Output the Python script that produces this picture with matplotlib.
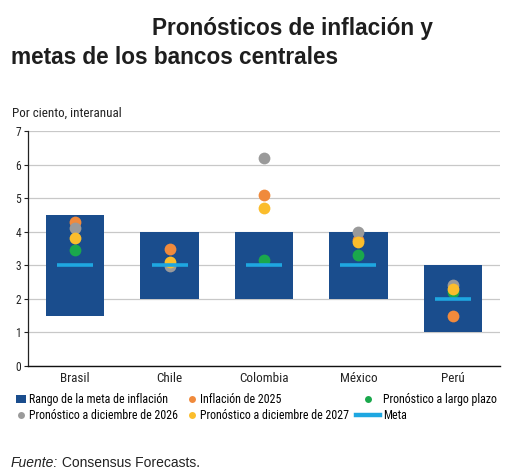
import matplotlib
matplotlib.use("Agg")
import matplotlib.pyplot as plt
from matplotlib.lines import Line2D
from matplotlib.patches import Patch
from matplotlib import font_manager as fm
from matplotlib.textpath import TextPath
import os
import numpy as np

countries = ["Brasil", "Chile", "Colombia", "México", "Perú"]
range_low = [1.5, 2.0, 2.0, 2.0, 1.0]
range_high = [4.5, 4.0, 4.0, 4.0, 3.0]
meta = [3.0, 3.0, 3.0, 3.0, 2.0]
infl_2025 = [4.3, 3.5, 5.1, 3.75, 1.5]
pron_2026 = [4.1, 2.98, 6.2, 4.0, 2.4]
pron_2027 = [3.8, 3.1, 4.7, 3.7, 2.3]
largo_plazo = [3.45, 3.0, 3.15, 3.3, 2.2]

C_BAR = "#1a4d8d"
C_META = "#1ea7e1"
C_ORANGE = "#f08a3c"
C_GRAY = "#9a9a9a"
C_YELLOW = "#fbbd2c"
C_GREEN = "#1aa84c"

W, H = 516, 475
files = {os.path.basename(f.fname).lower(): f.fname for f in fm.fontManager.ttflist}


def base_fp(candidates, family, **kw):
    for c in candidates:
        if c.lower() in files:
            return fm.FontProperties(fname=files[c.lower()])
    return fm.FontProperties(family=family, **kw)


narrow_base = base_fp(["LiberationSansNarrow-Regular.ttf",
                       "RobotoCondensed-Regular.ttf",
                       "OpenSans_Condensed-Regular.ttf",
                       "OpenSansCondensed-Regular.ttf",
                       "NotoSans-Condensed.ttf",
                       "NotoSansCondensed-Regular.ttf",
                       "DejaVuSansCondensed.ttf", "Lato-Regular.ttf"], "Lato")


def fit(text, target_px, prop=narrow_base):
    p = prop.copy()
    p.set_size(10)
    w = TextPath((0, 0), text, prop=p).get_extents().width * 100 / 72
    p.set_size(min(10.5, 10 * target_px / w))
    return p


title_fp = base_fp(["LiberationSans-Bold.ttf"], "Liberation Sans", weight="bold")
title_fp.set_size(16.3)
ital_fp = base_fp(["LiberationSans-Italic.ttf"], "Liberation Sans", style="italic")
ital_fp.set_size(10)
reg_fp = base_fp(["LiberationSans-Regular.ttf"], "Liberation Sans")
reg_fp.set_size(10)

leg_fp = fit("Pronóstico a diciembre de 2027", 148)
tick_fp = fit("Colombia", 48)
ylab_fp = fit("Por ciento, interanual", 107)
ytick_fp = narrow_base.copy()
ytick_fp.set_size(8.3)

fig = plt.figure(figsize=(W / 100, H / 100), dpi=100)
ax = fig.add_axes([28 / W, 1 - 366 / H, 472 / W, 235 / H])

x = np.arange(len(countries))
bw = 0.62
ax.bar(x, np.array(range_high) - np.array(range_low), bottom=range_low,
       width=bw, color=C_BAR, zorder=2)

s = 72
ax.scatter(x, largo_plazo, s=s, color=C_GREEN, zorder=3, linewidths=0)
ax.scatter(x, infl_2025, s=s, color=C_ORANGE, zorder=3, linewidths=0)
ax.scatter(x, pron_2026, s=s, color=C_GRAY, zorder=4, linewidths=0)
ax.scatter(x, pron_2027, s=s, color=C_YELLOW, zorder=5, linewidths=0)
for xi, m in zip(x, meta):
    ax.plot([xi - 0.19, xi + 0.19], [m, m], color=C_META, lw=2.6,
            solid_capstyle="butt", zorder=6)

ax.set_xlim(-0.5, 4.5)
ax.set_ylim(0, 7)
ax.set_yticks(range(8))
ax.set_xticks(x)
ax.set_xticklabels(countries, color="#222222")
for lab in ax.get_xticklabels():
    lab.set_fontproperties(tick_fp)
for lab in ax.get_yticklabels():
    lab.set_fontproperties(ytick_fp)
ax.tick_params(axis="x", length=0, pad=4)
ax.tick_params(axis="y", length=3, width=0.8, color="#222222",
               labelcolor="#222222", pad=2)
ax.grid(axis="y", color="#c8c8c8", lw=0.9, zorder=0)
ax.set_axisbelow(True)
for sp in ["top", "right"]:
    ax.spines[sp].set_visible(False)
ax.spines["left"].set_color("#222222")
ax.spines["left"].set_linewidth(0.9)
ax.spines["bottom"].set_color("#111111")
ax.spines["bottom"].set_linewidth(1.0)

# Legend: three columns, two rows
dot = dict(marker="o", ls="none", markersize=5, markeredgewidth=0)
columns = [
    ([Patch(facecolor=C_BAR, edgecolor="none"),
      Line2D([], [], color=C_GRAY, **dot)],
     ["Rango de la meta de inflación", "Pronóstico a diciembre de 2026"],
     16, 0.85),
    ([Line2D([], [], color=C_ORANGE, **dot),
      Line2D([], [], color=C_YELLOW, **dot)],
     ["Inflación de 2025", "Pronóstico a diciembre de 2027"],
     188, 0.75),
    ([Line2D([], [], color=C_GREEN, **dot),
      Line2D([], [], color=C_META, lw=3.2)],
     ["Pronóstico a largo plazo", "Meta"],
     356, 2.0),
]
fs_px = leg_fp.get_size() * 100 / 72
for hs, ls, x0, hl in columns:
    fig.legend(hs, ls, loc="upper left",
               bbox_to_anchor=(x0 / W, 1 - 393 / H), frameon=False,
               prop=leg_fp, handlelength=hl, handleheight=0.6,
               handletextpad=0.25, labelspacing=(15 - fs_px) / fs_px,
               borderaxespad=0, borderpad=0)

fig.text(12 / W, 1 - 113 / H, "Por ciento, interanual",
         fontproperties=ylab_fp, color="#222222", va="center", ha="left")

fig.text(293 / W, 1 - 28 / H, "Pronósticos de inflación y",
         fontproperties=title_fp, color="#1e1e1e", ha="center", va="center")
fig.text(11 / W, 1 - 58 / H, "metas de los bancos centrales",
         fontproperties=title_fp, color="#1e1e1e", ha="left", va="center")

t1 = fig.text(11 / W, 1 - 463 / H, "Fuente:", fontproperties=ital_fp,
              color="#222222", va="center", ha="left")
ax.annotate(" Consensus Forecasts.", xy=(1, 0.5), xycoords=t1,
            fontproperties=reg_fp, color="#222222",
            va="center", ha="left", annotation_clip=False)

fig.savefig("out.png", dpi=100)
